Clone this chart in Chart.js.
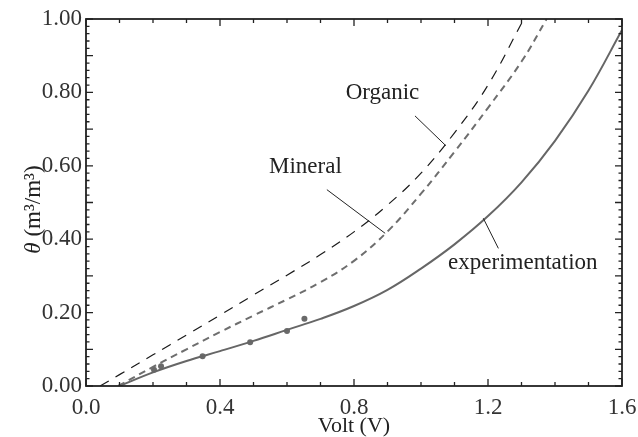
<!DOCTYPE html>
<html>
<head>
<meta charset="utf-8">
<script src="https://cdn.jsdelivr.net/npm/chart.js@4.4.1/dist/chart.umd.min.js"></script>
<style>
  html, body { margin: 0; padding: 0; background: #fff; }
  #wrap { width: 638px; height: 437px; }
</style>
</head>
<body>
<div id="wrap"><canvas id="chartCanvas"></canvas></div>
<script>
// Fitted curve of the measurements
const voltExp = [0.10, 0.20, 0.30, 0.40, 0.50, 0.60, 0.70, 0.80, 0.90, 1.00, 1.10, 1.20, 1.30, 1.40, 1.50, 1.60];
const thetaExp = [0.000, 0.037, 0.068, 0.095, 0.123, 0.153, 0.183, 0.218, 0.262, 0.320, 0.386, 0.463, 0.555, 0.668, 0.805, 0.970];

// Measured points
const voltPts = [0.203, 0.224, 0.348, 0.490, 0.600, 0.652];
const thetaPts = [0.044, 0.054, 0.081, 0.119, 0.150, 0.183];

// Mineral soil calibration
const voltMin = [0.096, 0.20, 0.30, 0.40, 0.50, 0.60, 0.70, 0.80, 0.90, 1.00, 1.10, 1.20, 1.30, 1.375];
const thetaMin = [0.000, 0.052, 0.100, 0.147, 0.192, 0.236, 0.283, 0.341, 0.421, 0.524, 0.638, 0.758, 0.884, 1.000];

// Organic soil calibration
const voltOrg = [0.042, 0.10, 0.20, 0.30, 0.40, 0.50, 0.60, 0.70, 0.80, 0.90, 1.00, 1.10, 1.20, 1.307];
const thetaOrg = [0.000, 0.031, 0.085, 0.139, 0.193, 0.248, 0.302, 0.358, 0.420, 0.493, 0.580, 0.690, 0.820, 1.000];

// Labels with leader lines, in data units
const notes = [
  { text: 'Organic', at: [0.885, 0.799], from: [0.982, 0.736], to: [1.074, 0.655] },
  { text: 'Mineral', at: [0.655, 0.597], from: [0.719, 0.535], to: [0.893, 0.416] },
  { text: 'experimentation', at: [1.304, 0.334], from: [1.231, 0.375], to: [1.186, 0.457] }
];

const SERIF = "'Liberation Serif', 'Times New Roman', serif";
const pairs = (xs, ys) => xs.map((x, i) => ({ x: x, y: ys[i] }));

// Inward ticks on all four sides plus the box
const frame = {
  id: 'frame',
  afterDatasetsDraw(chart) {
    const { ctx, chartArea: a, scales } = chart;
    const sx = scales.x, sy = scales.y;
    ctx.save();
    ctx.strokeStyle = '#222';
    ctx.lineWidth = 1.3;
    ctx.beginPath();
    for (let i = 0; i <= 16; i++) {
      const px = sx.getPixelForValue(i / 10);
      const len = i % 4 === 0 ? 7 : 4;
      ctx.moveTo(px, a.bottom); ctx.lineTo(px, a.bottom - len);
      ctx.moveTo(px, a.top); ctx.lineTo(px, a.top + len);
    }
    for (let i = 0; i <= 50; i++) {
      const py = sy.getPixelForValue(i / 50);
      const len = i % 5 === 0 ? 7 : 3.5;
      ctx.moveTo(a.left, py); ctx.lineTo(a.left + len, py);
      ctx.moveTo(a.right, py); ctx.lineTo(a.right - len, py);
    }
    ctx.stroke();
    ctx.lineWidth = 1.8;
    ctx.strokeRect(a.left, a.top, a.right - a.left, a.bottom - a.top);
    ctx.restore();
  }
};

// Curve names and their leaders
const labels = {
  id: 'labels',
  afterDatasetsDraw(chart) {
    const { ctx, scales } = chart;
    const p = (v) => [scales.x.getPixelForValue(v[0]), scales.y.getPixelForValue(v[1])];
    ctx.save();
    ctx.fillStyle = '#222';
    ctx.strokeStyle = '#222';
    ctx.lineWidth = 1;
    ctx.font = '23px ' + SERIF;
    ctx.textAlign = 'center';
    ctx.textBaseline = 'middle';
    notes.forEach(n => {
      const t = p(n.at), a = p(n.from), b = p(n.to);
      ctx.fillText(n.text, t[0], t[1]);
      ctx.beginPath();
      ctx.moveTo(a[0], a[1]);
      ctx.lineTo(b[0], b[1]);
      ctx.stroke();
    });
    ctx.restore();
  }
};

// Rotated y title with an italic theta
const yTitle = {
  id: 'yTitle',
  afterDraw(chart) {
    const { ctx, chartArea: a } = chart;
    const head = 'θ', tail = ' (m³/m³)';
    ctx.save();
    ctx.fillStyle = '#222';
    ctx.textBaseline = 'middle';
    ctx.font = 'italic 23px ' + SERIF;
    const w1 = ctx.measureText(head).width;
    ctx.font = '23px ' + SERIF;
    const w2 = ctx.measureText(tail).width;
    ctx.translate(34, (a.top + a.bottom) / 2 + 7);
    ctx.rotate(-Math.PI / 2);
    const start = -(w1 + w2) / 2;
    ctx.textAlign = 'left';
    ctx.font = 'italic 23px ' + SERIF;
    ctx.fillText(head, start, 0);
    ctx.font = '23px ' + SERIF;
    ctx.fillText(tail, start + w1, 0);
    ctx.restore();
  }
};

const ctx = document.getElementById('chartCanvas').getContext('2d');

new Chart(ctx, {
  type: 'scatter',
  data: {
    datasets: [
      {
        label: 'Organic',
        data: pairs(voltOrg, thetaOrg),
        showLine: true,
        borderColor: '#1a1a1a',
        borderWidth: 1.2,
        borderDash: [10, 8],
        pointRadius: 0,
        tension: 0.4
      },
      {
        label: 'Mineral',
        data: pairs(voltMin, thetaMin),
        showLine: true,
        borderColor: '#6e6e6e',
        borderWidth: 2,
        borderDash: [7, 5],
        pointRadius: 0,
        tension: 0.4
      },
      {
        label: 'experimentation',
        data: pairs(voltExp, thetaExp),
        showLine: true,
        borderColor: '#666',
        borderWidth: 2,
        pointRadius: 0,
        tension: 0.4
      },
      {
        label: 'measured',
        data: pairs(voltPts, thetaPts),
        showLine: false,
        pointRadius: 3,
        pointBackgroundColor: '#6a6a6a',
        pointBorderWidth: 0
      }
    ]
  },
  options: {
    responsive: true,
    maintainAspectRatio: false,
    animation: false,
    layout: { padding: 0 },
    plugins: { legend: { display: false }, tooltip: { enabled: false } },
    scales: {
      x: {
        type: 'linear',
        min: 0,
        max: 1.6,
        afterFit: (s) => {
          s.height = 51;
          s.paddingLeft = 0;
          s.paddingRight = 16;
        },
        grid: { display: false, drawTicks: false },
        border: { display: false },
        ticks: {
          stepSize: 0.4,
          padding: 8,
          color: '#333',
          font: { family: SERIF, size: 23 },
          callback: (v) => Number(v).toFixed(1),
          maxRotation: 0
        },
        title: {
          display: true,
          text: 'Volt (V)',
          color: '#222',
          font: { family: SERIF, size: 22, lineHeight: 1 },
          padding: { top: 0, bottom: 0 }
        }
      },
      y: {
        type: 'linear',
        min: 0,
        max: 1,
        afterFit: (s) => {
          s.width = 86;
          s.paddingTop = 19;
          s.paddingBottom = 0;
        },
        grid: { display: false, drawTicks: false },
        border: { display: false },
        ticks: {
          stepSize: 0.2,
          padding: 4,
          color: '#333',
          font: { family: SERIF, size: 23 },
          callback: (v) => Number(v).toFixed(2)
        }
      }
    }
  },
  plugins: [frame, labels, yTitle]
});
</script>
</body>
</html>
